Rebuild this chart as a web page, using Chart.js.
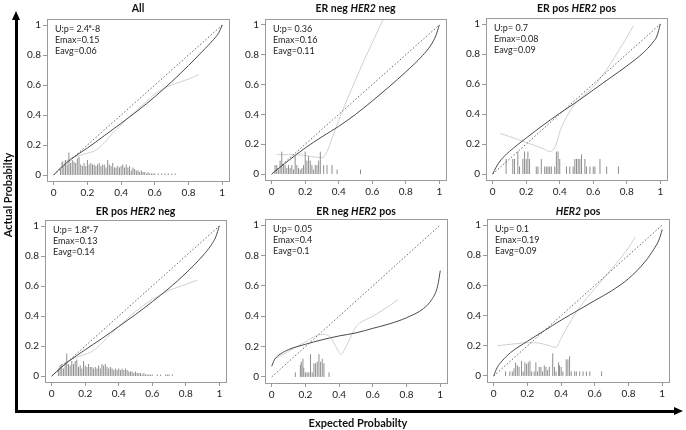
<!DOCTYPE html>
<html>
<head>
<meta charset="utf-8">
<script src="https://cdn.jsdelivr.net/npm/chart.js@4.4.1/dist/chart.umd.min.js"></script>
<style>
  body { margin: 0; background: #fff; }
  #wrap { position: relative; width: 686px; height: 430px; overflow: hidden; font-family: Lato, "Open Sans", sans-serif; color: #111; }
  #wrap canvas { position: absolute; }
  .ttl { position: absolute; text-align: center; font-weight: bold; font-size: 10.5px; line-height: 14px; white-space: nowrap; }
  .stat { position: absolute; font-size: 9px; line-height: 11px; color: #222; white-space: nowrap; }
  .axlab { position: absolute; font-weight: bold; font-size: 11px; line-height: 14px; text-align: center; white-space: nowrap; }
  .bar { position: absolute; background: #000; }
  .head { position: absolute; width: 0; height: 0; }
</style>
</head>
<body>
<div id="wrap"></div>
<script>
// tick values / labels shared by every panel
const tickValues = [0, 0.2, 0.4, 0.6, 0.8, 1];
const tickLabels = ['0', '0.2', '0.4', '0.6', '0.8', '1'];

const panelTitles = ['All', 'ER neg HER2 neg', 'ER pos HER2 pos', 'ER pos HER2 neg', 'ER neg HER2 pos', 'HER2 pos'];
const panelStats = [
  ['U:p= 2.4\u1d49-8', 'Emax=0.15', 'Eavg=0.06'],
  ['U:p= 0.36', 'Emax=0.16', 'Eavg=0.11'],
  ['U:p= 0.7', 'Emax=0.08', 'Eavg=0.09'],
  ['U:p= 1.8\u1d49-7', 'Emax=0.13', 'Eavg=0.14'],
  ['U:p= 0.05', 'Emax=0.4', 'Eavg=0.1'],
  ['U:p= 0.1', 'Emax=0.19', 'Eavg=0.09']
];

// --- All
const allCurve = [[0,0],[0.05,0.058],[0.1,0.103],[0.15,0.143],[0.2,0.18],[0.3,0.262],[0.4,0.345],[0.5,0.43],[0.6,0.522],[0.7,0.622],[0.8,0.73],[0.9,0.845],[0.95,0.905],[0.98,0.95],[1,1]];
const allLoess = [[0.04,0.07],[0.1,0.11],[0.15,0.13],[0.2,0.145],[0.25,0.165],[0.3,0.215],[0.35,0.28],[0.4,0.335],[0.45,0.39],[0.5,0.44],[0.55,0.49],[0.6,0.54],[0.65,0.575],[0.7,0.6],[0.75,0.62],[0.8,0.64],[0.86,0.67]];
const allSpikeX = [0.04,0.05,0.06,0.07,0.08,0.09,0.10,0.11,0.12,0.13,0.14,0.15,0.16,0.17,0.18,0.19,0.20,0.21,0.22,0.23,0.24,0.25,0.26,0.27,0.28,0.29,0.30,0.31,0.32,0.33,0.34,0.35,0.36,0.37,0.38,0.39,0.40,0.41,0.42,0.43,0.44,0.45,0.46,0.47,0.48,0.49,0.50,0.51,0.52,0.53,0.54,0.55,0.56,0.57,0.58,0.59,0.60,0.62,0.64,0.66,0.68,0.70,0.72];
const allSpikeH = [0.04,0.09,0.06,0.10,0.07,0.15,0.08,0.10,0.09,0.08,0.11,0.12,0.07,0.06,0.08,0.06,0.10,0.07,0.08,0.07,0.07,0.06,0.07,0.08,0.06,0.07,0.07,0.05,0.10,0.07,0.06,0.08,0.05,0.05,0.06,0.05,0.06,0.07,0.05,0.07,0.05,0.06,0.03,0.05,0.04,0.03,0.03,0.02,0.03,0.02,0.02,0.01,0.02,0.01,0.01,0.01,0.01,0.01,0.01,0.01,0.01,0.01,0.01];

// --- ER neg HER2 neg
const enhnCurve = [[0,0],[0.05,0.045],[0.1,0.09],[0.2,0.175],[0.3,0.25],[0.4,0.32],[0.5,0.4],[0.6,0.49],[0.7,0.585],[0.8,0.685],[0.9,0.795],[0.95,0.865],[0.98,0.93],[1,1]];
const enhnLoess = [[0.03,0.13],[0.1,0.13],[0.2,0.125],[0.25,0.115],[0.3,0.11],[0.33,0.15],[0.36,0.24],[0.4,0.36],[0.45,0.5],[0.5,0.63],[0.55,0.76],[0.6,0.88],[0.65,1.0],[0.67,1.05]];
const enhnSpikeX = [0.02,0.03,0.04,0.05,0.06,0.07,0.08,0.09,0.10,0.11,0.12,0.13,0.14,0.15,0.16,0.17,0.18,0.19,0.20,0.21,0.22,0.23,0.24,0.25,0.26,0.27,0.28,0.29,0.31,0.33,0.36,0.39,0.53];
const enhnSpikeH = [0.06,0.06,0.03,0.09,0.15,0.06,0.06,0.04,0.06,0.04,0.06,0.03,0.12,0.06,0.04,0.03,0.04,0.06,0.15,0.09,0.12,0.09,0.06,0.03,0.06,0.06,0.09,0.15,0.06,0.06,0.06,0.03,0.03];

// --- ER pos HER2 pos
const ephpCurve = [[0,0],[0.02,0.045],[0.05,0.095],[0.1,0.15],[0.2,0.24],[0.3,0.325],[0.4,0.405],[0.5,0.48],[0.6,0.56],[0.7,0.64],[0.8,0.72],[0.9,0.81],[0.95,0.87],[0.98,0.92],[1,1]];
const ephpLoess = [[0.045,0.27],[0.1,0.25],[0.2,0.21],[0.3,0.17],[0.34,0.15],[0.36,0.16],[0.38,0.2],[0.4,0.28],[0.45,0.4],[0.5,0.48],[0.55,0.53],[0.6,0.58],[0.65,0.65],[0.7,0.73],[0.75,0.82],[0.8,0.91],[0.84,0.99]];
const ephpSpikeX = [0.08,0.12,0.13,0.15,0.16,0.18,0.19,0.20,0.21,0.22,0.26,0.27,0.29,0.31,0.32,0.33,0.34,0.35,0.37,0.38,0.39,0.40,0.44,0.46,0.48,0.49,0.50,0.51,0.52,0.53,0.55,0.56,0.58,0.60,0.61,0.64,0.68,0.75];
const ephpSpikeH = [0.1,0.1,0.1,0.15,0.05,0.1,0.15,0.1,0.15,0.1,0.05,0.05,0.1,0.05,0.05,0.05,0.05,0.05,0.05,0.15,0.15,0.1,0.05,0.05,0.05,0.1,0.1,0.1,0.1,0.13,0.1,0.05,0.05,0.05,0.05,0.1,0.05,0.05];

// --- ER pos HER2 neg
const ephnCurve = [[0,0],[0.05,0.05],[0.1,0.097],[0.2,0.175],[0.3,0.25],[0.4,0.33],[0.5,0.41],[0.6,0.495],[0.7,0.585],[0.8,0.685],[0.9,0.8],[0.95,0.87],[0.98,0.93],[1,1]];
const ephnLoess = [[0.04,0.06],[0.1,0.1],[0.15,0.125],[0.2,0.145],[0.25,0.17],[0.3,0.22],[0.35,0.28],[0.4,0.33],[0.5,0.43],[0.6,0.51],[0.7,0.57],[0.8,0.61],[0.87,0.64]];
const ephnSpikeX = [0.04,0.05,0.06,0.07,0.08,0.09,0.10,0.11,0.12,0.13,0.14,0.15,0.16,0.17,0.18,0.19,0.20,0.21,0.22,0.23,0.24,0.25,0.26,0.27,0.28,0.29,0.30,0.31,0.32,0.33,0.34,0.35,0.36,0.37,0.38,0.39,0.40,0.41,0.42,0.43,0.44,0.45,0.46,0.47,0.48,0.49,0.50,0.51,0.52,0.53,0.54,0.55,0.56,0.57,0.58,0.59,0.60,0.63,0.65,0.68,0.69,0.70,0.72];
const ephnSpikeH = [0.05,0.07,0.08,0.05,0.09,0.15,0.08,0.07,0.10,0.08,0.10,0.11,0.06,0.07,0.05,0.10,0.07,0.06,0.08,0.06,0.06,0.05,0.06,0.05,0.07,0.05,0.08,0.07,0.08,0.06,0.05,0.06,0.05,0.04,0.05,0.04,0.05,0.04,0.05,0.04,0.05,0.04,0.03,0.03,0.03,0.02,0.03,0.02,0.02,0.02,0.01,0.02,0.01,0.01,0.01,0.01,0.01,0.01,0.01,0.01,0.01,0.01,0.01];

// --- ER neg HER2 pos
const enhpCurve = [[0,0.07],[0.01,0.1],[0.02,0.12],[0.05,0.15],[0.1,0.18],[0.2,0.215],[0.3,0.245],[0.4,0.27],[0.5,0.29],[0.6,0.32],[0.7,0.35],[0.8,0.39],[0.9,0.45],[0.95,0.51],[0.98,0.58],[0.99,0.63],[1,0.7]];
const enhpLoess = [[0.02,0.12],[0.1,0.17],[0.2,0.23],[0.27,0.275],[0.3,0.28],[0.35,0.26],[0.38,0.2],[0.41,0.15],[0.45,0.22],[0.5,0.33],[0.53,0.36],[0.6,0.4],[0.7,0.47],[0.75,0.51]];
const enhpSpikeX = [0.14,0.17,0.175,0.185,0.19,0.20,0.21,0.22,0.23,0.24,0.25,0.26,0.27,0.28,0.29,0.30,0.31,0.34];
const enhpSpikeH = [0.03,0.08,0.10,0.12,0.06,0.03,0.03,0.03,0.15,0.03,0.09,0.09,0.10,0.15,0.10,0.12,0.09,0.03];

// --- HER2 pos
const hpCurve = [[0,0],[0.02,0.055],[0.05,0.1],[0.1,0.155],[0.2,0.23],[0.3,0.3],[0.4,0.37],[0.5,0.435],[0.6,0.5],[0.7,0.565],[0.8,0.645],[0.9,0.76],[0.95,0.84],[0.98,0.9],[1,0.97]];
const hpLoess = [[0.02,0.2],[0.1,0.21],[0.2,0.22],[0.25,0.22],[0.3,0.21],[0.37,0.19],[0.4,0.25],[0.45,0.35],[0.5,0.44],[0.6,0.58],[0.7,0.71],[0.8,0.85],[0.84,0.92]];
const hpSpikeX = [0.07,0.095,0.11,0.12,0.13,0.14,0.15,0.165,0.175,0.185,0.195,0.205,0.215,0.225,0.24,0.25,0.26,0.27,0.28,0.29,0.30,0.31,0.32,0.33,0.35,0.36,0.37,0.385,0.39,0.40,0.41,0.43,0.44,0.45,0.46,0.48,0.49,0.51,0.53,0.55,0.57,0.64];
const hpSpikeH = [0.03,0.03,0.03,0.05,0.09,0.07,0.06,0.10,0.03,0.09,0.08,0.09,0.10,0.03,0.03,0.09,0.03,0.06,0.06,0.03,0.07,0.06,0.04,0.06,0.15,0.06,0.03,0.09,0.07,0.06,0.03,0.11,0.11,0.13,0.03,0.03,0.03,0.03,0.03,0.03,0.03,0.03];

const diagonal = [[0,0],[1,1]];

// plot boxes on the page: left, top, width, height
const boxes = [
  [47, 19, 182, 162], [265, 19, 181, 161], [486, 18, 181, 162],
  [45, 220, 181, 162], [265, 219, 182, 164], [487, 219, 182, 163]
];
const curves = [allCurve, enhnCurve, ephpCurve, ephnCurve, enhpCurve, hpCurve];
const loesses = [allLoess, enhnLoess, ephpLoess, ephnLoess, enhpLoess, hpLoess];
const spikeXs = [allSpikeX, enhnSpikeX, ephpSpikeX, ephnSpikeX, enhpSpikeX, hpSpikeX];
const spikeHs = [allSpikeH, enhnSpikeH, ephpSpikeH, ephnSpikeH, enhpSpikeH, hpSpikeH];

const Y_AXIS_W = 30, X_AXIS_H = 20, PAD_T = 8, PAD_R = 8;

const wrap = document.getElementById('wrap');

const toPts = (pairs) => pairs.map(p => ({ x: p[0], y: p[1] }));
const spikeData = (xs, hs) => {
  const d = [];
  xs.forEach((x, i) => { d.push({ x: x, y: 0 }, { x: x, y: hs[i] }, { x: x, y: null }); });
  return d;
};

const boxPlugin = {
  id: 'box',
  afterDatasetsDraw(chart) {
    const a = chart.chartArea, c = chart.ctx;
    c.save();
    c.strokeStyle = '#9a9a9a';
    c.lineWidth = 1;
    c.strokeRect(Math.round(a.left) + 0.5, Math.round(a.top) + 0.5, Math.round(a.right - a.left), Math.round(a.bottom - a.top));
    c.restore();
  }
};

const axisOpts = (extra) => Object.assign({
  type: 'linear', min: -0.04, max: 1.04,
  afterBuildTicks: (s) => { s.ticks = tickValues.map(v => ({ value: v })); },
  ticks: { autoSkip: false, maxRotation: 0, color: '#222', font: { size: 10, family: 'Lato' }, callback: (v, i) => tickLabels[i] },
  grid: { drawOnChartArea: false, drawTicks: true, tickLength: 4, color: '#9a9a9a' },
  border: { display: false }
}, extra);

boxes.forEach((b, i) => {
  const [L, T, W, H] = b;
  const cv = document.createElement('canvas');
  cv.width = W + Y_AXIS_W + PAD_R;
  cv.height = H + PAD_T + X_AXIS_H;
  cv.style.left = (L - Y_AXIS_W) + 'px';
  cv.style.top = (T - PAD_T) + 'px';
  wrap.appendChild(cv);

  new Chart(cv.getContext('2d'), {
    type: 'scatter',
    data: {
      datasets: [
        { data: toPts(curves[i]), borderColor: '#4a4a4a', borderWidth: 1, showLine: true, pointRadius: 0, cubicInterpolationMode: 'monotone' },
        { data: toPts(diagonal), borderColor: '#555', borderWidth: 0.9, borderDash: [1.5, 2], showLine: true, pointRadius: 0 },
        { data: spikeData(spikeXs[i], spikeHs[i]), borderColor: '#8e8e8e', borderWidth: 1, showLine: true, spanGaps: false, pointRadius: 0 },
        { data: toPts(loesses[i]), borderColor: '#d0d0d0', borderWidth: 1, showLine: true, pointRadius: 0, cubicInterpolationMode: 'monotone' }
      ]
    },
    options: {
      responsive: false,
      animation: false,
      events: [],
      layout: { padding: { top: PAD_T, right: PAD_R, left: 0, bottom: 0 } },
      plugins: { legend: { display: false }, tooltip: { enabled: false } },
      scales: {
        x: axisOpts({ afterFit: (s) => { s.height = X_AXIS_H; }, ticks: { autoSkip: false, maxRotation: 0, padding: 2, color: '#222', font: { size: 10, family: 'Lato' }, callback: (v, i) => tickLabels[i] } }),
        y: axisOpts({ afterFit: (s) => { s.width = Y_AXIS_W; }, ticks: { autoSkip: false, padding: 2, color: '#222', font: { size: 10, family: 'Lato' }, callback: (v, i) => tickLabels[i] } })
      }
    },
    plugins: [boxPlugin]
  });

  // title with italic gene name
  const t = document.createElement('div');
  t.className = 'ttl';
  t.innerHTML = panelTitles[i].replace('HER2', '<i>HER2</i>');
  t.style.left = L + 'px';
  t.style.width = W + 'px';
  t.style.top = (i < 3 ? 1 : 204) + 'px';
  wrap.appendChild(t);

  const s = document.createElement('div');
  s.className = 'stat';
  s.innerHTML = panelStats[i].join('<br>');
  s.style.left = (L + 8) + 'px';
  s.style.top = (T + 4) + 'px';
  wrap.appendChild(s);
});

// big axis arrows and labels
function addDiv(cls, css, html) {
  const d = document.createElement('div');
  d.className = cls;
  Object.assign(d.style, css);
  if (html) d.innerHTML = html;
  wrap.appendChild(d);
}
addDiv('bar', { left: '15px', top: '19px', width: '2.5px', height: '394px' });
addDiv('head', { left: '12.25px', top: '11px', borderLeft: '4px solid transparent', borderRight: '4px solid transparent', borderBottom: '9px solid #000' });
addDiv('bar', { left: '15px', top: '410px', width: '660px', height: '2.5px' });
addDiv('head', { left: '674px', top: '407.25px', borderTop: '4px solid transparent', borderBottom: '4px solid transparent', borderLeft: '9px solid #000' });
addDiv('axlab', { left: '-52px', top: '188px', width: '120px', transform: 'rotate(-90deg)' }, 'Actual Probabilty');
addDiv('axlab', { left: '278px', top: '416px', width: '160px' }, 'Expected Probabilty');
</script>
</body>
</html>
